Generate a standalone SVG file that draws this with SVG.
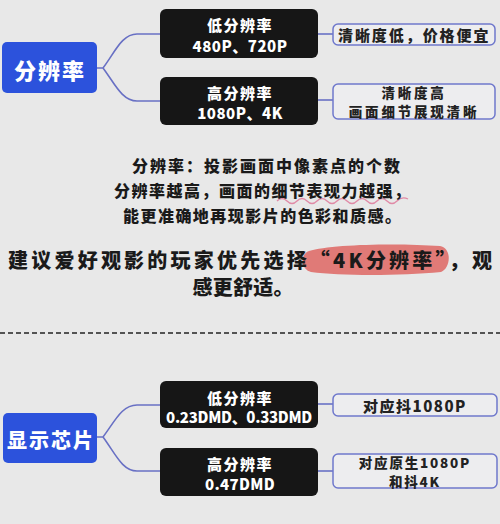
<svg xmlns="http://www.w3.org/2000/svg" width="500" height="524" viewBox="0 0 500 524">
<style>
.bg{fill:#e8e8e8}
.blue{fill:#2c52dc}
.blk{fill:#161616}
.rbox{fill:#ededef;stroke:#6f78cc;stroke-width:1.5}
.con{fill:none;stroke:#6870c4;stroke-width:1.6}
text{font-family:"Noto Sans CJK SC","Noto Sans",sans-serif;font-weight:900;text-anchor:middle;dominant-baseline:central}
.wt{fill:#ffffff;font-size:15px;letter-spacing:1.5px}
.big{fill:#ffffff;font-size:22px;letter-spacing:2px}
.dk{fill:#222222;font-size:15px;letter-spacing:1.5px}
.dk2{fill:#222222;font-size:13.5px;letter-spacing:2.8px}
.mid{fill:#1a1a1a;font-size:16px}
.hl{fill:#1a1a1a;font-size:20px}
</style>
<rect class="bg" x="0" y="0" width="500" height="524"/>

<g id="connectors">
<path class="con" d="M97,68 H103 C115,52 122,34 137,34 H160"/>
<path class="con" d="M103,68 C115,84 122,101 137,101 H160"/>
<path class="con" d="M318,34 H333"/>
<path class="con" d="M318,100 H333"/>
<path class="con" d="M97,437 H103 C115,421 122,405 137,405 H160"/>
<path class="con" d="M103,437 C115,453 122,471 137,471 H160"/>
<path class="con" d="M318,404 H333"/>
<path class="con" d="M318,471 H333"/>
</g>

<g id="n-fenbianlv">
<rect class="blue" x="2" y="42" width="95" height="51" rx="5"/>
<text class="big" x="50" y="69">分辨率</text>
</g>
<g id="n-low-res">
<rect class="blk" x="160" y="9" width="158" height="49" rx="6"/>
<text class="wt" x="240" y="24">低分辨率</text>
<text class="wt" x="240" y="45" style="letter-spacing:0.5px">480P、720P</text>
</g>
<g id="n-high-res">
<rect class="blk" x="160" y="77" width="158" height="48" rx="6"/>
<text class="wt" x="240" y="92">高分辨率</text>
<text class="wt" x="240" y="112" style="letter-spacing:0.5px">1080P、4K</text>
</g>
<g id="n-low-desc">
<rect class="rbox" x="333" y="24" width="162" height="21" rx="5"/>
<text class="dk" x="414" y="34.5" textLength="152" lengthAdjust="spacing">清晰度低，价格便宜</text>
</g>
<g id="n-high-desc">
<rect class="rbox" x="333" y="84" width="162" height="35" rx="5"/>
<text class="dk2"><tspan x="414" y="92">清晰度高</tspan><tspan x="414" y="111">画面细节展现清晰</tspan></text>
</g>

<g id="explain">
<text class="mid" x="266" y="165" textLength="268" lengthAdjust="spacing">分辨率：投影画面中像素点的个数</text>
<path d="M277,201 q5,-5 10,0 t10,0 t10,0 t10,0 t10,0 t10,0 t10,0 t10,0 t10,0 t10,0 t10,0 t10,0 t11,-2" fill="none" stroke="#e08aa6" stroke-width="1.3"/>
<text class="mid" x="262" y="190" textLength="296" lengthAdjust="spacing">分辨率越高，画面的细节表现力越强，</text>
<text class="mid" x="262" y="215" textLength="278" lengthAdjust="spacing">能更准确地再现影片的色彩和质感。</text>
</g>

<g id="advice">
<path d="M309,251 C330,244 400,243 440,246 C452,248 451,268 441,272 C400,276 340,276 311,272 C300,269 300,254 309,251 Z" fill="#e07a77"/>
<text class="hl" x="250" y="259.5" textLength="484" lengthAdjust="spacing">建议爱好观影的玩家优先选择“4K分辨率”，观</text>
<text class="hl" x="243" y="286.5" textLength="101" lengthAdjust="spacing">感更舒适。</text>
</g>

<line x1="0" y1="333" x2="500" y2="333" stroke="#222222" stroke-width="1.3" stroke-dasharray="5,3"/>

<g id="n-chip">
<rect class="blue" x="3" y="413" width="94" height="50" rx="5"/>
<text class="big" x="51" y="439" style="font-size:20px">显示芯片</text>
</g>
<g id="n-low-chip">
<rect class="blk" x="160" y="381" width="158" height="47" rx="6"/>
<text class="wt" x="240" y="397">低分辨率</text>
<text class="wt" x="239" y="416" style="letter-spacing:-0.3px">0.23DMD、0.33DMD</text>
</g>
<g id="n-high-chip">
<rect class="blk" x="160" y="448" width="158" height="48" rx="6"/>
<text class="wt" x="240" y="463">高分辨率</text>
<text class="wt" x="240" y="483" style="letter-spacing:0.3px">0.47DMD</text>
</g>
<g id="n-low-chip-desc">
<rect class="rbox" x="333" y="394" width="164" height="22" rx="5"/>
<text class="dk" x="415" y="405">对应抖1080P</text>
</g>
<g id="n-high-chip-desc">
<rect class="rbox" x="333" y="454" width="164" height="34" rx="5"/>
<text class="dk2" style="letter-spacing:1.8px"><tspan x="415" y="461.5">对应原生1080P</tspan><tspan x="415" y="480.5">和抖4K</tspan></text>
</g>
</svg>
